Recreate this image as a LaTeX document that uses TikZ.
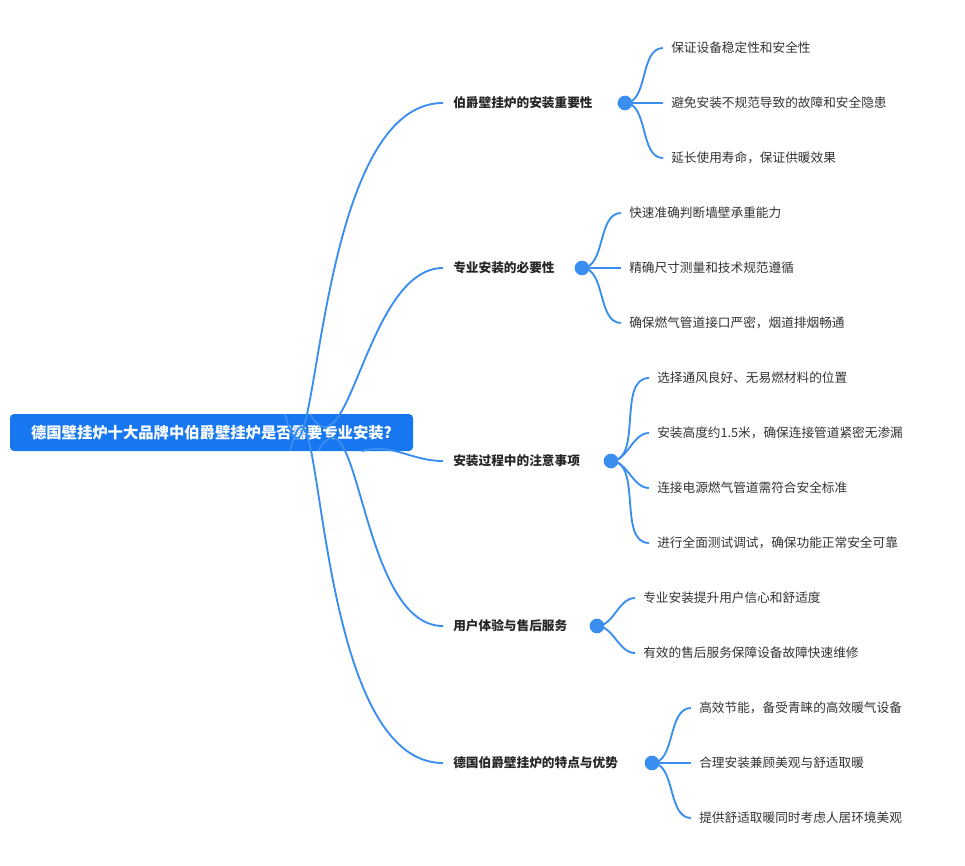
\documentclass[tikz,border=0pt]{standalone}
\usepackage{fontspec}
\setmainfont{Noto Sans CJK SC}
\begin{document}
\begin{tikzpicture}[x=0.75pt,y=-0.75pt,
  ln/.style={draw=lb,line width=1.4pt},
  br/.style={font=\fontsize{9.5}{11}\selectfont\bfseries,anchor=west,inner sep=0pt,text=black!85},
  lf/.style={font=\fontsize{9.5}{11}\selectfont,anchor=west,inner sep=0pt,text=black!80},
  dotst/.style={circle,fill=lb,inner sep=0pt,minimum size=11pt}]
\definecolor{lb}{HTML}{3A8EF0}
\definecolor{rb}{HTML}{1677F0}
\useasboundingbox (0,0) rectangle (965,865);
\node[fill=rb,rounded corners=3pt,minimum width=403*0.75pt,minimum height=37*0.75pt,text=white,font=\fontsize{11.5}{13}\selectfont\bfseries,inner sep=0pt] (root) at (211.5,432.5) {德国壁挂炉十大品牌中伯爵壁挂炉是否需要专业安装?};
\coordinate (s1) at (285,414);\coordinate (s2) at (310,414);
\coordinate (s3) at (362,451);\coordinate (s4) at (318,451);\coordinate (s5) at (290,451);
% branches
\node[br] (b1) at (453,103) {伯爵壁挂炉的安装重要性};
\node[br] (b2) at (453,268) {专业安装的必要性};
\node[br] (b3) at (453,461) {安装过程中的注意事项};
\node[br] (b4) at (453,626) {用户体验与售后服务};
\node[br] (b5) at (453,763) {德国伯爵壁挂炉的特点与优势};
\coordinate (e1) at (443,103);\coordinate (e2) at (443,268);\coordinate (e3) at (443,461);\coordinate (e4) at (443,626);\coordinate (e5) at (443,763);
\draw[ln] (s1) to[out=-75,in=180] (e1);
\draw[ln] (s2) to[out=-60,in=180] (e2);
\draw[ln] (s3) to[out=15,in=180] (e3);
\draw[ln] (s4) to[out=60,in=180] (e4);
\draw[ln] (s5) to[out=75,in=180] (e5);
\node[dotst] (d1) at (625,103) {};
\node[dotst] (d2) at (582,268) {};
\node[dotst] (d3) at (611,461) {};
\node[dotst] (d4) at (597,626) {};
\node[dotst] (d5) at (652,763) {};
% leaves
\foreach \d/\x/\y/\t/\n in {
 d1/671/48/保证设备稳定性和安全性/a1, d1/671/103/避免安装不规范导致的故障和安全隐患/a2, d1/671/158/延长使用寿命，保证供暖效果/a3,
 d2/629/213/快速准确判断墙壁承重能力/b1x, d2/629/268/精确尺寸测量和技术规范遵循/b2x, d2/629/323/确保燃气管道接口严密，烟道排烟畅通/b3x,
 d3/657/378/选择通风良好、无易燃材料的位置/c1, d3/657/433/安装高度约1.5米，确保连接管道紧密无渗漏/c2, d3/657/488/连接电源燃气管道需符合安全标准/c3, d3/657/543/进行全面测试调试，确保功能正常安全可靠/c4,
 d4/643/598/专业安装提升用户信心和舒适度/e1x, d4/643/653/有效的售后服务保障设备故障快速维修/e2x,
 d5/699/708/高效节能，备受青睐的高效暖气设备/f1, d5/699/763/合理安装兼顾美观与舒适取暖/f2, d5/699/818/提供舒适取暖同时考虑人居环境美观/f3}{
  \node[lf] (\n) at (\x,\y) {\t};
  \draw[ln] (\d.center) to[out=0,in=180,looseness=0.9] ([xshift=-8*0.75pt]\n.west);
}
\end{tikzpicture}
\end{document}
